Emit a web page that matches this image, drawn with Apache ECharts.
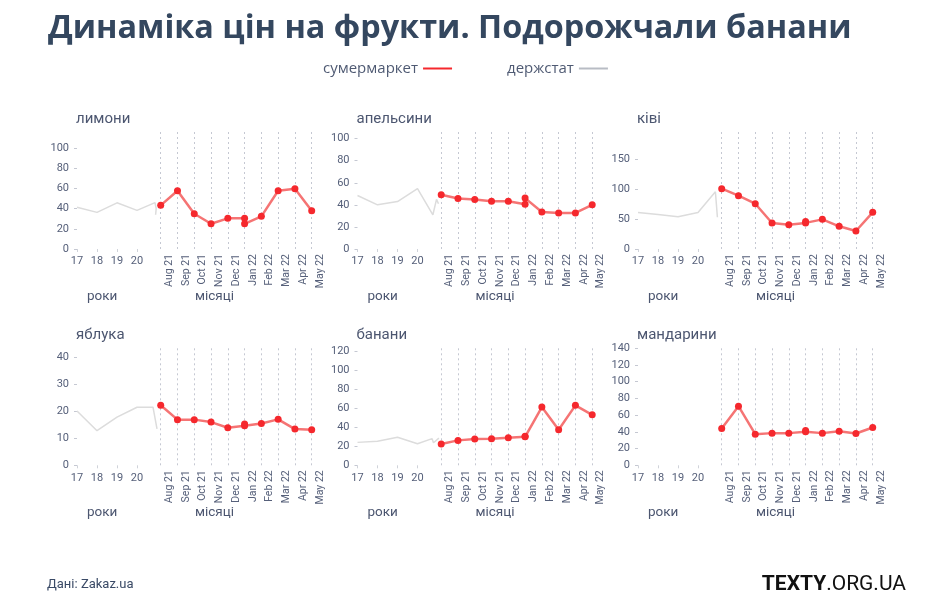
<!DOCTYPE html>
<html>
<head>
<meta charset="utf-8">
<title>Динаміка цін на фрукти</title>
<script src="https://cdn.jsdelivr.net/npm/echarts@6/dist/echarts.min.js"></script>
<style>
    html, body { margin: 0; padding: 0; background: #fff; }
    #chart { width: 930px; height: 605px; }
</style>
</head>
<body>
<div id="chart"></div>
<script>
// місяці (права частина кожної панелі)
const months = ['Aug 21', 'Sep 21', 'Oct 21', 'Nov 21', 'Dec 21', 'Jan 22', 'Feb 22', 'Mar 22', 'Apr 22', 'May 22']
// у січні по два заміри
const shopIdx = [0, 1, 2, 3, 4, 5, 5, 6, 7, 8, 9]
// роки (ліва частина)
const yearTicks = [17, 18, 19, 20]

const fruitNames = ['лимони', 'апельсини', 'ківі', 'яблука', 'банани', 'мандарини']

// ціни супермаркету
const lemonShop = [43.3, 57.7, 35, 25, 30.4, 30.4, 25, 32.4, 57.7, 59.7, 38]
const orangeShop = [49.1, 45.7, 44.8, 43.3, 43.3, 40.6, 46.1, 33.6, 32.7, 32.7, 40]
const kiwiShop = [100.5, 88.9, 75.5, 43.3, 40.6, 43.5, 46, 49.4, 37.8, 30, 61.1]
const appleShop = [22.2, 16.9, 16.9, 16, 13.9, 14.6, 15.3, 15.5, 17, 13.4, 13.2]
const bananaShop = [22.4, 26.2, 27.6, 28, 29, 30, 30.5, 61.2, 37.4, 63, 53.1]
const mandarinShop = [44, 70.7, 37.3, 38.5, 38.5, 40, 41.5, 38.5, 40.8, 38.1, 45.2]

// держстат: рік і ціна
const lemonStatX = [17, 18, 19, 20, 20.9, 20.96, 20.93]
const lemonStat = [41.3, 36.3, 45.8, 38.3, 46, 40, 34]
const orangeStatX = [17, 18, 19, 20, 20.77, 20.95, 21.05]
const orangeStat = [48.5, 40, 43, 54.8, 31, 45, 41]
const kiwiStatX = [17, 18, 19, 20, 20.87, 20.97]
const kiwiStat = [61, 57.5, 53.9, 61, 95.5, 53]
const appleStatX = [17, 18, 19, 20, 20.8, 21.0]
const appleStat = [20.1, 12.8, 17.8, 21.5, 21.5, 13.5]
const bananaStatX = [17, 18, 19, 20, 20.73, 20.8, 21.07]
const bananaStat = [24.1, 25.2, 29.4, 22.7, 28, 23.7, 28.5]
const mandarinStatX = []
const mandarinStat = []

// шкали y
const yMax = [116, 106, 195, 43.3, 123, 140]
const yTicks = [
    [0, 20, 40, 60, 80, 100],
    [0, 20, 40, 60, 80, 100],
    [0, 50, 100, 150],
    [0, 10, 20, 30, 40],
    [0, 20, 40, 60, 80, 100, 120],
    [0, 20, 40, 60, 80, 100, 120, 140]
]

const shopData = [lemonShop, orangeShop, kiwiShop, appleShop, bananaShop, mandarinShop]
const statXData = [lemonStatX, orangeStatX, kiwiStatX, appleStatX, bananaStatX, mandarinStatX]
const statData = [lemonStat, orangeStat, kiwiStat, appleStat, bananaStat, mandarinStat]

const labelColor = '#56607a'
const font = 'Roboto'
const colX = [0, 280.5, 561]
const rowY = [132, 348.3]

const grid = []
const xAxis = []
const yAxis = []
const series = []
const title = [
    {
        text: 'Динаміка цін на фрукти. Подорожчали банани',
        left: 48, top: 13, padding: 0,
        textStyle: { fontSize: 32.4, fontWeight: 'bold', color: '#34475f', fontFamily: 'Open Sans' }
    },
    {
        text: 'Дані: Zakaz.ua',
        left: 47, top: 578, padding: 0,
        textStyle: { fontSize: 13, fontWeight: 'normal', color: '#3a4a66', fontFamily: font }
    },
    {
        text: '{b|TEXTY}{r|.ORG.UA}',
        right: 24, top: 574, padding: 0,
        textStyle: {
            rich: {
                b: { fontSize: 21, fontWeight: 'bold', color: '#111', fontFamily: font },
                r: { fontSize: 21, fontWeight: 'normal', color: '#111', fontFamily: font }
            }
        }
    }
]

fruitNames.forEach((name, i) => {
    const cx = colX[i % 3]
    const ry = rowY[Math.floor(i / 3)]
    const g = i * 2

    // ліва сітка — роки, права — місяці
    grid.push({ left: 77 + cx, top: ry, width: 82, height: 117 })
    grid.push({ left: 160.7 + cx, top: ry, width: 151, height: 117 })

    xAxis.push({
        gridIndex: g,
        type: 'value',
        min: 17,
        max: 21.1,
        axisLine: { show: false },
        splitLine: { show: false },
        axisTick: { show: true, customValues: yearTicks, length: 3, lineStyle: { color: '#d0d3da' } },
        axisLabel: { customValues: yearTicks, margin: 7, color: labelColor, fontSize: 11, fontFamily: font }
    })
    xAxis.push({
        gridIndex: g + 1,
        type: 'value',
        min: 0,
        max: 9,
        interval: 1,
        axisLine: { show: false },
        axisTick: { show: false },
        splitLine: { show: true, lineStyle: { color: '#c5c8d2', type: [2, 3], width: 1 } },
        axisLabel: {
            rotate: 90,
            margin: 5,
            verticalAlign: 'top',
            padding: [3, 0, 0, 0],
            color: labelColor,
            fontSize: 10.5,
            fontFamily: font,
            formatter: v => months[v] || ''
        }
    })

    yAxis.push({
        gridIndex: g,
        type: 'value',
        min: 0,
        max: yMax[i],
        axisLine: { show: false },
        splitLine: { show: false },
        axisTick: { show: true, customValues: yTicks[i], length: 3, lineStyle: { color: '#c5c8d2' } },
        axisLabel: { customValues: yTicks[i], margin: 8, color: labelColor, fontSize: 11, fontFamily: font }
    })
    yAxis.push({
        gridIndex: g + 1,
        type: 'value',
        min: 0,
        max: yMax[i],
        show: false
    })

    series.push({
        name: 'держстат',
        type: 'line',
        xAxisIndex: g,
        yAxisIndex: g,
        symbol: 'none',
        clip: false,
        itemStyle: { color: '#b8bcc4' },
        lineStyle: { color: '#dcdcdc', width: 1.5 },
        data: statXData[i].map((x, k) => [x, statData[i][k]])
    })
    series.push({
        name: 'сумермаркет',
        type: 'line',
        xAxisIndex: g + 1,
        yAxisIndex: g + 1,
        symbol: 'circle',
        symbolSize: 7,
        clip: false,
        z: 3,
        itemStyle: { color: '#f5282d' },
        lineStyle: { color: 'rgba(242, 70, 70, 0.75)', width: 2.5 },
        data: shopIdx.map((x, k) => [x, shopData[i][k]])
    })

    title.push({
        text: name,
        left: 76 + cx, top: ry - 20.5, padding: 0,
        textStyle: { fontSize: 15, fontWeight: 'normal', color: '#4c5670', fontFamily: font }
    })
    title.push({
        text: 'роки',
        left: 87 + cx, top: ry + 157.5, padding: 0,
        textStyle: { fontSize: 13.5, fontWeight: 'normal', color: '#4c5670', fontFamily: font }
    })
    title.push({
        text: 'місяці',
        left: 195 + cx, top: ry + 157.5, padding: 0,
        textStyle: { fontSize: 13.5, fontWeight: 'normal', color: '#4c5670', fontFamily: font }
    })
})

const myChart = echarts.init(document.getElementById('chart'))
myChart.setOption({
    animation: false,
    backgroundColor: '#fff',
    title,
    legend: {
        left: 323,
        top: 61,
        padding: 0,
        align: 'right',
        icon: 'rect',
        itemWidth: 29,
        itemHeight: 2,
        itemGap: 55,
        selectedMode: false,
        textStyle: { fontSize: 15, color: '#4f5a73', fontFamily: 'Open Sans' },
        data: ['сумермаркет', 'держстат']
    },
    grid,
    xAxis,
    yAxis,
    series
})
</script>
</body>
</html>
